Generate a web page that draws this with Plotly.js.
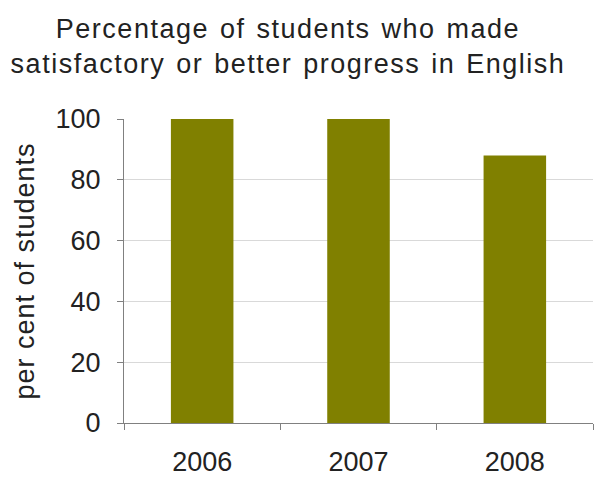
<!DOCTYPE html>
<html><head><meta charset="utf-8">
<script src="https://cdn.plot.ly/plotly-3.0.1.min.js"></script>
<style>
body{margin:0;background:#fff}#c{width:595px;height:477px}
.gtitle{letter-spacing:1.5px;word-spacing:2px}
.ytitle{letter-spacing:1px}
</style>
</head><body><div id="c"></div>
<script>
var years = ["2006", "2007", "2008"];
var percentages = [100, 100, 88];
var yTicks = [0, 20, 40, 60, 80, 100];

var data = [{
  type: "bar",
  x: years,
  y: percentages,
  marker: {color: "#808000"},
  width: 0.4,
  hoverinfo: "x+y"
}];
var font = "Liberation Sans, Arial, sans-serif";
var layout = {
  width: 595, height: 477,
  margin: {l: 124, r: 2, t: 119, b: 54},
  paper_bgcolor: "#fff", plot_bgcolor: "#fff",
  showlegend: false,
  title: {
    text: "Percentage of students who made<br>satisfactory or better progress in English",
    font: {family: font, size: 27, color: "#222"},
    x: 0.484, xanchor: "center", yref: "container", y: 0.92, yanchor: "top"
  },
  xaxis: {
    type: "category",
    showline: true, linecolor: "#808080", linewidth: 1,
    ticks: "outside", tickson: "boundaries", ticklen: 6, tickcolor: "#808080",
    showgrid: false, zeroline: false,
    tickfont: {family: font, size: 27, color: "#222"},
    ticklabelstandoff: 15
  },
  yaxis: {
    range: [0, 100],
    tickvals: yTicks,
    showline: true, linecolor: "#808080", linewidth: 1,
    ticks: "outside", ticklen: 6, tickcolor: "#808080",
    showgrid: true, gridcolor: "#d9d9d9", gridwidth: 1,
    zeroline: false,
    tickfont: {family: font, size: 27, color: "#222"},
    ticklabelstandoff: 11,
    title: {text: "per cent of students", font: {family: font, size: 27, color: "#222"}, standoff: 13}
  }
};
Plotly.newPlot("c", data, layout, {displayModeBar: false, staticPlot: true});
</script></body></html>
